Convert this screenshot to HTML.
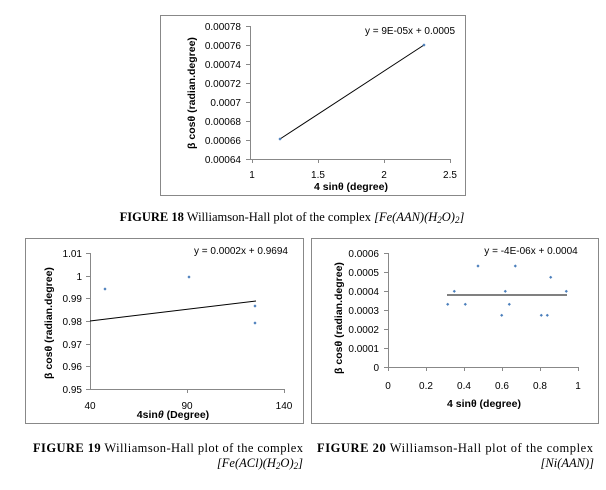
<!DOCTYPE html>
<html><head><meta charset="utf-8"><style>
html,body{margin:0;padding:0;background:#fff;width:606px;height:490px;overflow:hidden}
svg{display:block}
.t{font-family:"Liberation Sans",sans-serif;font-size:10px;fill:#000}
.b{font-family:"Liberation Sans",sans-serif;font-size:10.5px;font-weight:bold;fill:#000}
.c{font-family:"Liberation Serif",serif;font-size:12.5px;fill:#000}
.ci{font-style:italic}
</style></head><body>
<svg width="606" height="490" viewBox="0 0 606 490" xmlns="http://www.w3.org/2000/svg">
<defs><path id="d" d="M0,-1.6L1.6,0L0,1.6L-1.6,0Z" fill="#4a7ebb"/></defs>
<g stroke="#888" fill="none" stroke-width="1">
<rect x="160.5" y="15.5" width="305" height="180"/>
<rect x="25.5" y="238.5" width="278" height="185"/>
<rect x="311.5" y="238.5" width="287" height="185"/>
</g>
<!-- Chart 1 -->
<g stroke="#888" stroke-width="1">
<line x1="250.5" y1="26" x2="250.5" y2="159"/>
<line x1="250" y1="159.5" x2="450" y2="159.5"/>
<line x1="246" y1="26.5" x2="250" y2="26.5"/><line x1="246" y1="45.5" x2="250" y2="45.5"/><line x1="246" y1="64.5" x2="250" y2="64.5"/><line x1="246" y1="83.5" x2="250" y2="83.5"/><line x1="246" y1="102.5" x2="250" y2="102.5"/><line x1="246" y1="121.5" x2="250" y2="121.5"/><line x1="246" y1="140.5" x2="250" y2="140.5"/><line x1="246" y1="159.5" x2="250" y2="159.5"/>
<line x1="252.5" y1="159" x2="252.5" y2="163"/><line x1="318.5" y1="159" x2="318.5" y2="163"/><line x1="384.5" y1="159" x2="384.5" y2="163"/><line x1="450.5" y1="159" x2="450.5" y2="163"/>
</g>
<g class="t" text-anchor="end">
<text x="241" y="30">0.00078</text><text x="241" y="49">0.00076</text><text x="241" y="68">0.00074</text><text x="241" y="87">0.00072</text><text x="241" y="106">0.0007</text><text x="241" y="125">0.00068</text><text x="241" y="144">0.00066</text><text x="241" y="163">0.00064</text>
</g>
<g class="t" text-anchor="middle">
<text x="252" y="178">1</text><text x="318" y="178">1.5</text><text x="384" y="178">2</text><text x="450" y="178">2.5</text>
</g>
<text class="b" x="351" y="190" text-anchor="middle">4 sinθ (degree)</text>
<text class="b" transform="translate(195,93) rotate(-90)" text-anchor="middle">β cosθ (radian.degree)</text>
<text class="t" x="410" y="34" text-anchor="middle">y = 9E-05x + 0.0005</text>
<line x1="280" y1="139" x2="424" y2="45" stroke="#000" stroke-width="1"/>
<use href="#d" x="280" y="139"/><use href="#d" x="424" y="45"/>
<text class="c" x="292" y="221" text-anchor="middle"><tspan font-weight="bold">FIGURE 18</tspan> Williamson-Hall plot of the complex <tspan class="ci">[Fe(AAN)(H</tspan><tspan class="ci" font-size="9" dy="2">2</tspan><tspan class="ci" dy="-2">O)</tspan><tspan class="ci" font-size="9" dy="2">2</tspan><tspan class="ci" dy="-2">]</tspan></text>

<!-- Chart 2 -->
<g stroke="#888" stroke-width="1">
<line x1="90.5" y1="253" x2="90.5" y2="389"/>
<line x1="90" y1="389.5" x2="284" y2="389.5"/>
<line x1="86" y1="253.5" x2="90" y2="253.5"/><line x1="86" y1="276.5" x2="90" y2="276.5"/><line x1="86" y1="298.5" x2="90" y2="298.5"/><line x1="86" y1="321.5" x2="90" y2="321.5"/><line x1="86" y1="344.5" x2="90" y2="344.5"/><line x1="86" y1="366.5" x2="90" y2="366.5"/><line x1="86" y1="389.5" x2="90" y2="389.5"/>
<line x1="187.5" y1="389" x2="187.5" y2="393"/><line x1="284.5" y1="389" x2="284.5" y2="393"/>
</g>
<g class="t" text-anchor="end">
<text x="82" y="257">1.01</text><text x="82" y="280">1</text><text x="82" y="302">0.99</text><text x="82" y="325">0.98</text><text x="82" y="348">0.97</text><text x="82" y="370">0.96</text><text x="82" y="393">0.95</text>
</g>
<g class="t" text-anchor="middle">
<text x="90" y="409">40</text><text x="187" y="409">90</text><text x="284" y="409">140</text>
</g>
<text class="b" x="173" y="418" text-anchor="middle">4sin<tspan font-style="italic">θ</tspan>  (Degree)</text>
<text class="b" transform="translate(52,323) rotate(-90)" text-anchor="middle">β cosθ (radian.degree)</text>
<text class="t" x="241" y="254" text-anchor="middle">y = 0.0002x + 0.9694</text>
<line x1="90" y1="321" x2="256" y2="301" stroke="#000" stroke-width="1"/>
<use href="#d" x="105" y="289"/><use href="#d" x="189" y="277"/><use href="#d" x="255" y="306"/><use href="#d" x="255" y="323"/>
<text class="c" x="33" y="452" textLength="270" lengthAdjust="spacing"><tspan font-weight="bold">FIGURE 19</tspan> Williamson-Hall plot of the complex</text>
<text class="c ci" x="303" y="467" text-anchor="end">[Fe(ACl)(H<tspan font-size="9" dy="2">2</tspan><tspan dy="-2">O)</tspan><tspan font-size="9" dy="2">2</tspan><tspan dy="-2">]</tspan></text>

<!-- Chart 3 -->
<g stroke="#888" stroke-width="1">
<line x1="388.5" y1="253" x2="388.5" y2="367"/>
<line x1="388" y1="367.5" x2="578" y2="367.5"/>
<line x1="384" y1="253.5" x2="388" y2="253.5"/><line x1="384" y1="272.5" x2="388" y2="272.5"/><line x1="384" y1="291.5" x2="388" y2="291.5"/><line x1="384" y1="310.5" x2="388" y2="310.5"/><line x1="384" y1="329.5" x2="388" y2="329.5"/><line x1="384" y1="348.5" x2="388" y2="348.5"/><line x1="384" y1="367.5" x2="388" y2="367.5"/>
<line x1="388.5" y1="367" x2="388.5" y2="371"/><line x1="426.5" y1="367" x2="426.5" y2="371"/><line x1="464.5" y1="367" x2="464.5" y2="371"/><line x1="502.5" y1="367" x2="502.5" y2="371"/><line x1="540.5" y1="367" x2="540.5" y2="371"/><line x1="578.5" y1="367" x2="578.5" y2="371"/>
</g>
<g class="t" text-anchor="end">
<text x="379" y="257">0.0006</text><text x="379" y="276">0.0005</text><text x="379" y="295">0.0004</text><text x="379" y="314">0.0003</text><text x="379" y="333">0.0002</text><text x="379" y="352">0.0001</text><text x="379" y="371">0</text>
</g>
<g class="t" text-anchor="middle">
<text x="388" y="389">0</text><text x="426" y="389">0.2</text><text x="464" y="389">0.4</text><text x="502" y="389">0.6</text><text x="540" y="389">0.8</text><text x="578" y="389">1</text>
</g>
<text class="b" x="484" y="407" text-anchor="middle">4 sinθ (degree)</text>
<text class="b" transform="translate(342,318) rotate(-90)" text-anchor="middle">β cosθ (radian.degree)</text>
<text class="t" x="531" y="254" text-anchor="middle">y = -4E-06x + 0.0004</text>
<line x1="447" y1="295" x2="567" y2="295" stroke="#000" stroke-width="1"/>
<use href="#d" x="447.7" y="304.3"/><use href="#d" x="454.3" y="291.3"/><use href="#d" x="465.3" y="304.3"/><use href="#d" x="478" y="266"/><use href="#d" x="501.7" y="315.3"/><use href="#d" x="505.3" y="291.3"/><use href="#d" x="509.3" y="304.3"/><use href="#d" x="515.3" y="266"/><use href="#d" x="541.3" y="315.3"/><use href="#d" x="547.3" y="315.3"/><use href="#d" x="550.7" y="277.3"/><use href="#d" x="566.3" y="291.3"/>
<text class="c" x="317" y="452" textLength="276" lengthAdjust="spacing"><tspan font-weight="bold">FIGURE 20</tspan> Williamson-Hall plot of the complex</text>
<text class="c ci" x="594" y="467" text-anchor="end">[Ni(AAN)]</text>
</svg>
</body></html>
